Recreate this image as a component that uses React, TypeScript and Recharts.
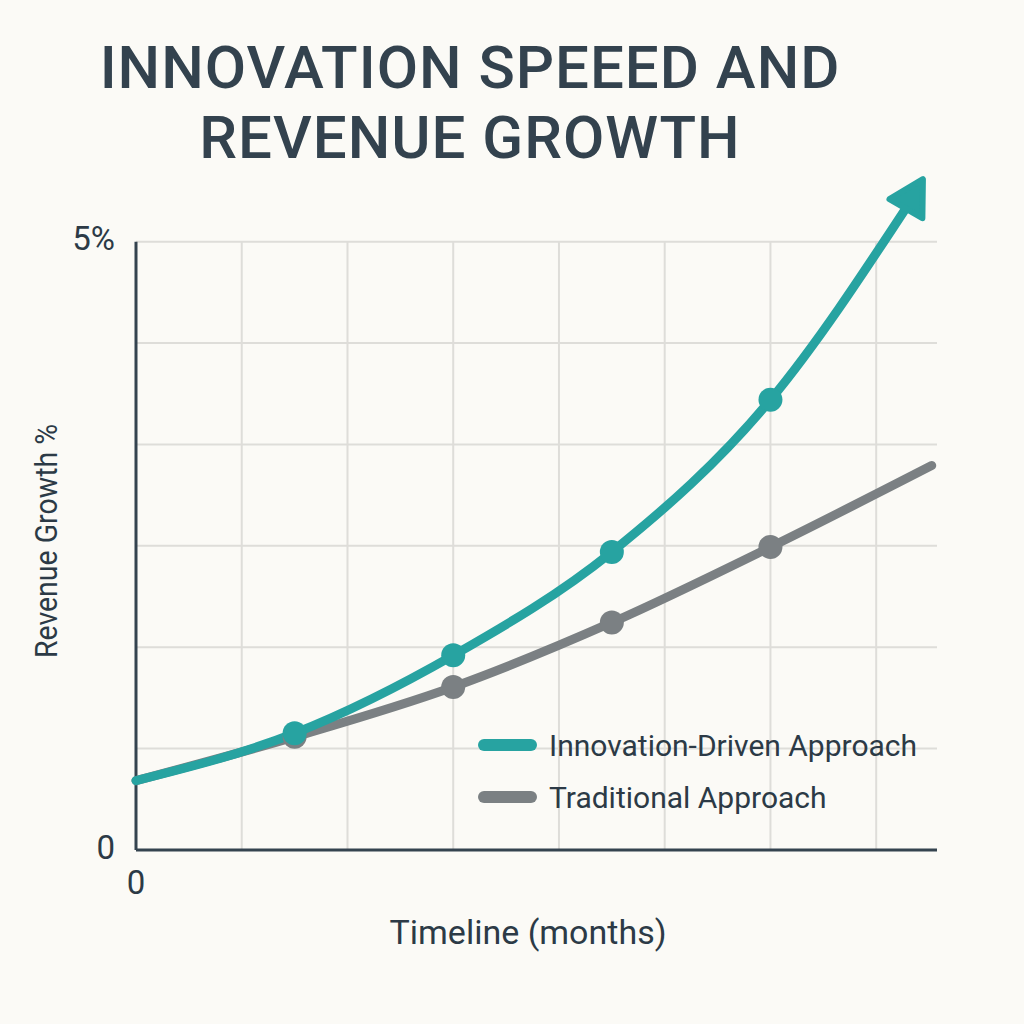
import React from "react";
import { LineChart, Line, XAxis, YAxis, ReferenceLine } from "recharts";

// months on the x axis, revenue growth in % on the y axis
const innovationMonths = [0, 3, 6, 9, 12, 14.6];
const innovationGrowth = [0.57, 0.96, 1.6, 2.45, 3.7, 5.3];
const traditionalMonths = [0, 3, 6, 9, 12, 15.05];
const traditionalGrowth = [0.57, 0.93, 1.34, 1.87, 2.49, 3.16];

const yTicks = [0, 5];
const gridMonths = [2, 4, 6, 8, 10, 12, 14];
const gridGrowth = [1, 2, 3, 4, 5, 6].map((k) => (k * 5) / 6);
const X_MAX = 15.15;

const TEAL = "#27a3a1";
const GRAY = "#7b8083";
const AXIS = "#34434f";
const GRID = "#deddd9";
const TEXT = "#2c3a46";
const FONT = "Roboto, 'Noto Sans', sans-serif";

const series = [
  { name: "Innovation-Driven Approach", color: TEAL },
  { name: "Traditional Approach", color: GRAY },
];

const innovationData = innovationMonths.map((m, i) => ({ month: m, growth: innovationGrowth[i] }));
const traditionalData = traditionalMonths.map((m, i) => ({ month: m, growth: traditionalGrowth[i] }));

const makeDot = (color: string, lastIndex: number, arrow: boolean) => (props: any) => {
  const { cx, cy, index, key } = props;
  if (index >= 1 && index <= 4) {
    return <circle key={key ?? `d${index}`} cx={cx} cy={cy} r={12} fill={color} />;
  }
  if (arrow && index === lastIndex) {
    return (
      <polygon
        key={key ?? `d${index}`}
        transform={`translate(${cx},${cy}) rotate(-60)`}
        points="-4,-19 30,0 -4,19"
        fill={color}
        stroke={color}
        strokeWidth={6}
        strokeLinejoin="round"
      />
    );
  }
  return <g key={key ?? `d${index}`} />;
};

export default function App() {
  return (
    <div style={{ position: "absolute", left: 0, top: 0, width: 1024, height: 1024, background: "#fbfaf6", overflow: "hidden" }}>
      <div
        style={{
          position: "absolute",
          left: 0,
          top: 33,
          width: 940,
          textAlign: "center",
          fontFamily: FONT,
          fontWeight: 500,
          fontSize: 60,
          lineHeight: "70px",
          letterSpacing: 1,
          color: "#33424e",
        }}
      >
        INNOVATION SPEEED AND
        <br />
        REVENUE GROWTH
      </div>
      <div
        style={{
          position: "absolute",
          left: 46 - 150,
          top: 541 - 20,
          width: 300,
          height: 40,
          lineHeight: "40px",
          textAlign: "center",
          transform: "rotate(-90deg) scaleX(0.89)",
          fontFamily: FONT,
          fontSize: 32,
          color: TEXT,
        }}
      >
        Revenue Growth %
      </div>
      <div
        style={{
          position: "absolute",
          left: 528 - 200,
          top: 932 - 20,
          width: 400,
          height: 40,
          lineHeight: "40px",
          textAlign: "center",
          fontFamily: FONT,
          fontSize: 34,
          color: TEXT,
        }}
      >
        Timeline (months)
      </div>
      <div style={{ position: "absolute", left: 0, top: 0 }}>
        <LineChart width={1024} height={1024} margin={{ top: 120, right: 87, bottom: 173, left: 135 }}>
          <XAxis
            dataKey="month"
            type="number"
            domain={[0, X_MAX]}
            ticks={[0]}
            height={1}
            axisLine={false}
            tickLine={false}
            tickSize={0}
            tickMargin={21}
            tick={{ fill: TEXT, fontSize: 33, fontFamily: FONT }}
            allowDuplicatedCategory={false}
          />
          <YAxis
            type="number"
            domain={[0, 6]}
            ticks={yTicks}
            width={1}
            axisLine={false}
            tickLine={false}
            tickSize={0}
            tickMargin={21}
            tickFormatter={(v: number) => (v === 5 ? "5%" : "0")}
            tick={{ fill: TEXT, fontSize: 33, fontFamily: FONT, dy: -3 }}
          />
          {gridGrowth.map((g) => (
            <ReferenceLine key={`h${g}`} segment={[{ x: 0, y: g }, { x: X_MAX, y: g }]} stroke={GRID} strokeWidth={2} />
          ))}
          {gridMonths.map((m) => (
            <ReferenceLine key={`v${m}`} segment={[{ x: m, y: 0 }, { x: m, y: 5 }]} stroke={GRID} strokeWidth={2} />
          ))}
          <ReferenceLine segment={[{ x: 0, y: 0 }, { x: 0, y: 5 }]} stroke={AXIS} strokeWidth={3} />
          <ReferenceLine segment={[{ x: 0, y: 0 }, { x: X_MAX, y: 0 }]} stroke={AXIS} strokeWidth={3} />
          <Line
            data={traditionalData}
            dataKey="growth"
            name="Traditional Approach"
            type="monotone"
            stroke={GRAY}
            strokeWidth={9}
            strokeLinecap="round"
            dot={makeDot(GRAY, traditionalData.length - 1, false)}
            activeDot={false}
            isAnimationActive={false}
          />
          <Line
            data={innovationData}
            dataKey="growth"
            name="Innovation-Driven Approach"
            type="monotone"
            stroke={TEAL}
            strokeWidth={9}
            strokeLinecap="round"
            dot={makeDot(TEAL, innovationData.length - 1, true)}
            activeDot={false}
            isAnimationActive={false}
          />
        </LineChart>
      </div>
      <div style={{ position: "absolute", left: 478, top: 719 }}>
        {series.map((s) => (
          <div key={s.name} style={{ display: "flex", alignItems: "center", height: 52 }}>
            <div style={{ width: 59, height: 12, borderRadius: 6, background: s.color, marginRight: 12 }} />
            <span style={{ fontFamily: FONT, fontSize: 30, color: TEXT }}>{s.name}</span>
          </div>
        ))}
      </div>
    </div>
  );
}
